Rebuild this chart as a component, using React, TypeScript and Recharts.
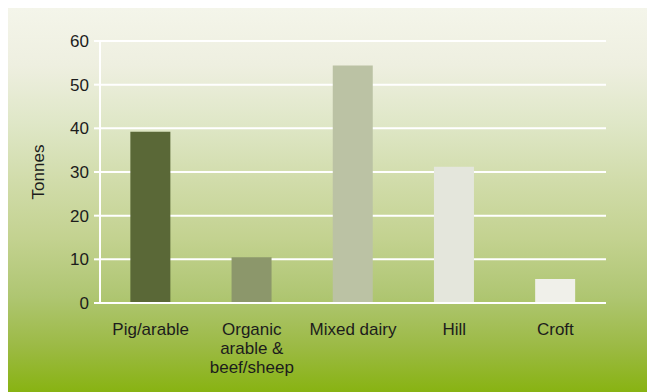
import React from "react";
import { BarChart, Bar, XAxis, YAxis, CartesianGrid, Cell } from "recharts";

// Farm types shown along the x axis (line breaks mark wrapped labels)
const farmTypes = [
  "Pig/arable",
  "Organic\narable &\nbeef/sheep",
  "Mixed dairy",
  "Hill",
  "Croft",
];

// Tonnes per farm type
const tonnes = [39.2, 10.5, 54.4, 31.2, 5.5];

const yTicks = [0, 10, 20, 30, 40, 50, 60];

const barColors = ["#5a6837", "#8c976b", "#bbc2a4", "#e4e6dc", "#f0f0ea"];

const data = farmTypes.map((name, i) => ({ name, value: tonnes[i] }));

const FONT = '"Liberation Sans", Arial, sans-serif';
const TEXT = "#1c1c1c";

const CategoryTick = (props: any) => {
  const { x, y, payload } = props;
  const lines = String(payload.value).split("\n");
  return (
    <text
      x={x}
      y={y}
      textAnchor="middle"
      fill={TEXT}
      fontFamily={FONT}
      fontSize={17}
    >
      {lines.map((line: string, i: number) => (
        <tspan key={i} x={x} dy={i === 0 ? 24 : 19}>
          {line}
        </tspan>
      ))}
    </text>
  );
};

const YTitle = (props: any) => {
  const vb = props.viewBox || {};
  const cx = 30;
  const cy = (vb.y ?? 0) + (vb.height ?? 0) / 2;
  return (
    <text
      x={cx}
      y={cy}
      transform={`rotate(-90, ${cx}, ${cy})`}
      textAnchor="middle"
      dominantBaseline="central"
      fill={TEXT}
      fontFamily={FONT}
      fontSize={17}
    >
      Tonnes
    </text>
  );
};

export default function App() {
  return (
    <>
      <style>{`html, body { overflow: hidden; }`}</style>
      <div
        style={{
          position: "fixed",
          left: 8,
          top: 8,
          width: 639,
          height: 384,
          background:
            "linear-gradient(to bottom, #f4f5ea 0%, #eeefe0 15%, #dfe7c7 30%, #d1dcaa 45%, #c3d290 60%, #afc672 75%, #9cba45 88%, #88b312 100%)",
        }}
      >
        <BarChart
          width={639}
          height={384}
          data={data}
          margin={{ top: 33, right: 41, bottom: 0, left: 0 }}
          barCategoryGap="30%"
        >
          <CartesianGrid vertical={false} stroke="#ffffff" strokeWidth={2} />
          <XAxis
            dataKey="name"
            interval={0}
            height={89}
            axisLine={{ stroke: "#ffffff", strokeWidth: 2 }}
            tickLine={false}
            tick={<CategoryTick />}
          />
          <YAxis
            width={92}
            domain={[0, 60]}
            ticks={yTicks}
            interval={0}
            axisLine={{ stroke: "#ffffff", strokeWidth: 2 }}
            tickLine={{ stroke: "#ffffff", strokeWidth: 2 }}
            tickSize={6}
            tickMargin={5}
            tick={{ fill: TEXT, fontFamily: FONT, fontSize: 17 }}
            label={<YTitle />}
          />
          <Bar dataKey="value" isAnimationActive={false}>
            {data.map((d, i) => (
              <Cell key={d.name} fill={barColors[i]} />
            ))}
          </Bar>
        </BarChart>
      </div>
    </>
  );
}
